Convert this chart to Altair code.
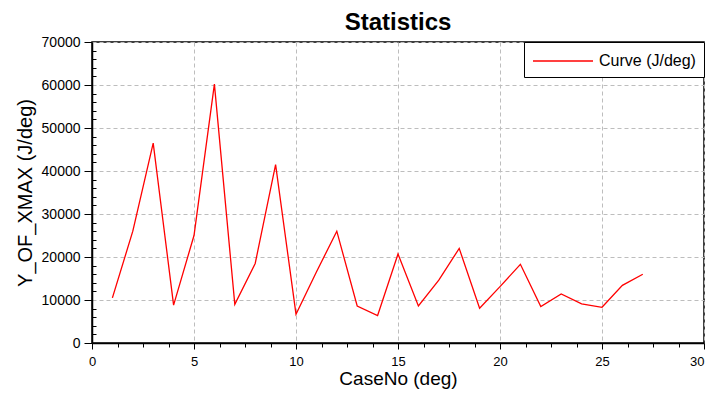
import altair as alt
import pandas as pd

# ---- data ----
case_no = list(range(1, 28))
y_of_xmax = [10500, 26000, 46500, 8800, 25000, 60200, 9000, 18500, 41500, 6700,
             16500, 26000, 8600, 6400, 20700, 8600, 14600, 22000, 8100, 13100,
             18300, 8500, 11400, 9100, 8300, 13400, 16000]
series_name = "Curve (J/deg)"

x_major = [0, 5, 10, 15, 20, 25, 30]
x_minor = [1.25, 2.5, 3.75, 6.25, 7.5, 8.75, 11.25, 12.5, 13.75, 16.25, 17.5, 18.75,
           21.25, 22.5, 23.75, 26.25, 27.5, 28.75]
y_major = [0, 10000, 20000, 30000, 40000, 50000, 60000, 70000]
y_minor = [v for v in range(0, 70001, 2000) if v % 10000 != 0]

df = pd.DataFrame({"CaseNo": case_no, "Y": y_of_xmax,
                   "series": [series_name] * len(case_no)})

FONT = "Liberation Sans"
xs = alt.Scale(domain=[0, 30], nice=False, zero=False)
ys = alt.Scale(domain=[0, 70000], nice=False)

main = alt.Chart(df).mark_line(strokeWidth=1.3).encode(
    x=alt.X("CaseNo:Q", scale=xs,
            axis=alt.Axis(values=x_major, orient="bottom", title="CaseNo (deg)", format="d",
                          grid=True, gridDash=[4, 3], gridColor="#bdbdbd", gridWidth=1,
                          tickSize=6, labelPadding=6, labelFontSize=13, labelFlush=False,
                          labelAlign=alt.ExprRef("datum.value == 30 ? 'right' : 'center'"),
                          titleFontSize=19, titlePadding=1, domainWidth=1.5)),
    y=alt.Y("Y:Q", scale=ys,
            axis=alt.Axis(values=y_major, orient="left", title="Y_OF_XMAX (J/deg)", format="d",
                          grid=True, gridDash=[4, 3], gridColor="#bdbdbd", gridWidth=1,
                          tickSize=8, labelPadding=4, labelFontSize=14,
                          titleFontSize=20, titlePadding=6, domainWidth=1.5)),
    color=alt.Color("series:N", scale=alt.Scale(range=["#ff0000"]),
                    legend=alt.Legend(title=None, orient="top-right", offset=0,
                                      strokeColor="black", fillColor="white",
                                      padding=8, symbolType="M-1,0H5", symbolSize=400,
                                      symbolStrokeWidth=1.5, labelFontSize=16,
                                      labelFont=FONT, labelColor="black", labelOffset=45)),
)

minor = alt.Chart(df).mark_line(opacity=0).encode(
    x=alt.X("CaseNo:Q", scale=xs,
            axis=alt.Axis(values=x_minor, orient="bottom", labels=False, title=None,
                          grid=False, domain=False, tickSize=4)),
    y=alt.Y("Y:Q", scale=ys,
            axis=alt.Axis(values=y_minor, orient="left", labels=False, title=None,
                          grid=False, domain=False, tickSize=4, offset=-4)),
)

chart = alt.layer(main, minor).resolve_axis(x="independent", y="independent").properties(
    width=612, height=301,
    title=alt.TitleParams("Statistics", fontSize=24, fontWeight="bold", font=FONT,
                          anchor="middle", frame="group", offset=0, color="black"),
    autosize=alt.AutoSizeParams(type="none"),
    padding={"left": 84, "top": 34, "right": 1, "bottom": 49},
).configure_axis(
    labelFont=FONT, titleFont=FONT, domainColor="black", tickColor="black",
    labelColor="black", titleColor="black", titleFontWeight="normal", tickWidth=1,
).configure_view(stroke="black", strokeWidth=1.5)

chart.save("out.html", embed_options={"renderer": "svg", "actions": False})
